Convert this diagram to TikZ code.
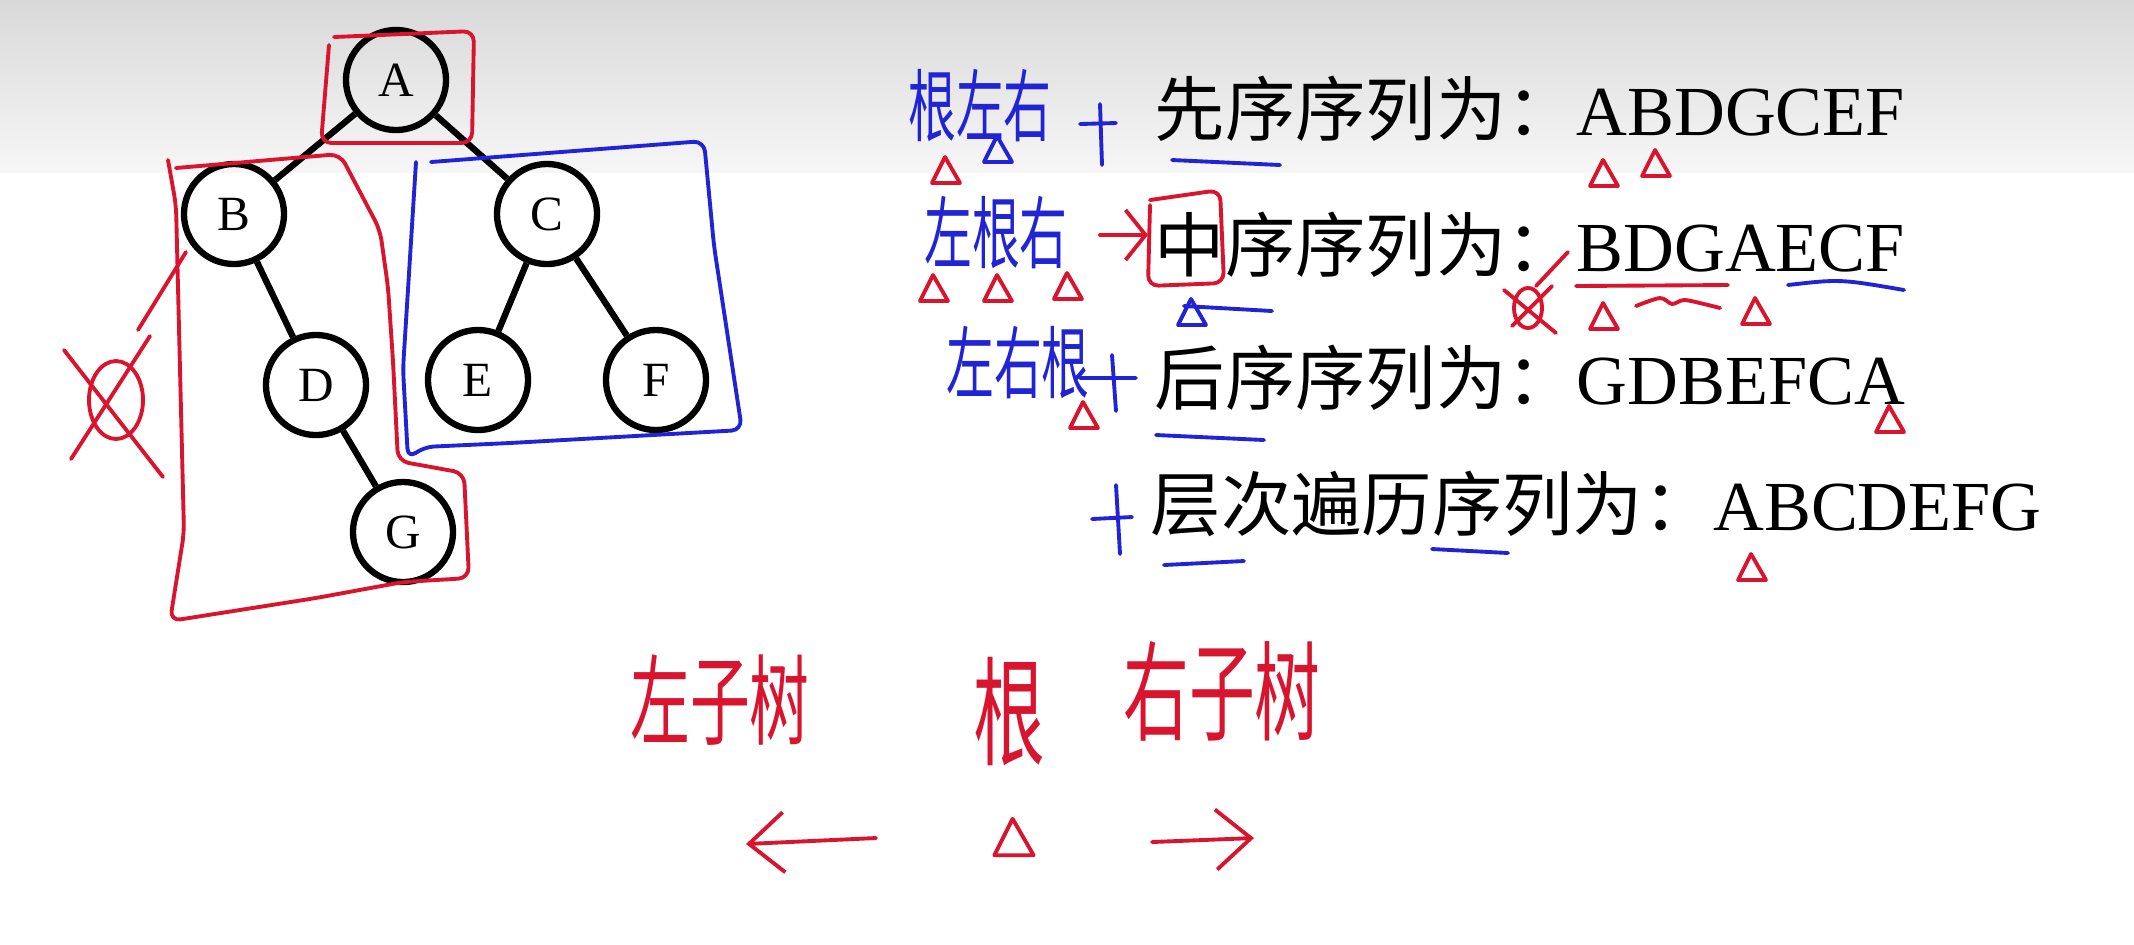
\documentclass[tikz,border=0pt]{standalone}
\usepackage{fontspec}
\setmainfont{Liberation Serif}
\newfontfamily\cjk{Noto Sans CJK SC}
\usetikzlibrary{arrows.meta}
\definecolor{pen1}{HTML}{D9142E}
\definecolor{pen2}{HTML}{2024D4}
% handwritten words, squeezed like the pen strokes
\newcommand\hw[2][16pt]{\scalebox{0.85}[1.4]{\fontsize{#1}{#1}\selectfont\cjk #2}}

\begin{document}
\begin{tikzpicture}[
  x=0.01cm,y=-0.01cm,
  vertex/.style={circle,draw,line width=1.8pt,minimum size=1cm,inner sep=0pt,font=\fontsize{14pt}{14pt}\selectfont},
  edge/.style={line width=1.8pt},
  row/.style={anchor=west,inner sep=0pt,font=\fontsize{20pt}{24pt}\selectfont},
  redpen/.style={color=pen1,line width=1.1pt,line cap=round,line join=round},
  bluepen/.style={color=pen2,line width=1.1pt,line cap=round,line join=round},
  tri/.pic={\draw (-14,13) -- (-1,-13) -- (14,13) -- cycle;},
  barb/.style={-{Straight Barb[length=3.5mm,width=6mm]}}]

\useasboundingbox (0,0) rectangle (2134,944);
\fill[white] (0,0) rectangle (2134,944);
\shade[top color=gray!30,bottom color=gray!7] (0,0) rectangle (2134,172);

% the tree
\node[vertex] (A) at (396,80) {A};
\node[vertex] (B) at (234,214) {B};
\node[vertex] (C) at (547,214) {C};
\node[vertex] (D) at (316,385) {D};
\node[vertex] (E) at (478,380) {E};
\node[vertex] (F) at (656,380) {F};
\node[vertex] (G) at (403,532) {G};
\foreach \u/\v in {A/B,A/C,B/D,D/G,C/E,C/F} \draw[edge] (\u) -- (\v);

% marks on the tree
\draw[redpen,rounded corners=3] (334,37) -- (474,31) -- (472,143) -- (321,143) -- (329,45);
\draw[redpen,rounded corners=3] (176,168) -- (340,154) -- (380,230) -- (388,287)
  -- (393,361) -- (398,461) -- (464,473) -- (469,578) -- (403,582) -- (316,598) -- (170,621)
  -- (184,533) -- (179,328) -- (176,205) -- (168,160);
\draw[bluepen,rounded corners=3] (416,162) -- (403,369) -- (408,459) -- (423,447) -- (510,443)
  -- (742,430) -- (714,246) -- (704,141) -- (431,162);
\draw[redpen] (116,400) ellipse [x radius=27,y radius=39];
\draw[redpen] (64,350) -- (163,477);
\draw[redpen] (150,336) -- (71,459);
\draw[redpen] (186,252) -- (138,330);

% the four orders
\node[row] (pre) at (1154,109) {{\cjk 先序序列为：}ABDGCEF};
\node[row] (in) at (1154,245) {{\cjk 中序序列为：}BDGAECF};
\node[row] (post) at (1154,378) {{\cjk 后序序列为：}GDBEFCA};
\node[row] (level) at (1150,504) {{\cjk 层次遍历序列为：}ABCDEFG};

% blue notes
\node[pen2] (r1) at (980,106) {\hw{根左右}};
\node[pen2] (r2) at (996,233) {\hw{左根右}};
\node[pen2] (r3) at (1018,363) {\hw{左右根}};
\draw[bluepen] (1100,104) -- (1102,165) (1080,124) -- (1116,123);
\draw[bluepen] (1080,378) -- (1136,378) (1112,355) -- (1116,411);
\draw[bluepen] (1116,485) -- (1120,554) (1092,519) -- (1132,517);
\draw[bluepen] (1172,160) -- (1280,165);
\draw[bluepen] (1156,435) -- (1264,440);
\draw[bluepen] (1164,565) -- (1244,561);
\draw[bluepen] (1432,549) -- (1508,553);
\draw[bluepen] (1788,285) .. controls (1840,279) .. (1904,290);
\draw[bluepen] (1184,306) -- (1272,311);
\foreach \p in {(998,149),(1192,312)} \pic[bluepen] at \p {tri};

% red notes
\draw[redpen,-{Straight Barb[length=2mm,width=5mm]}] (1100,235) -- (1148,235);
\draw[redpen,rounded corners=3] (1150,200) -- (1220,190) -- (1224,283) -- (1148,286) -- (1150,205);
\draw[redpen] (1576,286) -- (1728,285);
\draw[redpen] plot[smooth] coordinates {(1636,306) (1660,298) (1672,304) (1684,300) (1704,304) (1720,308)};
\draw[redpen] (1528,308) ellipse [x radius=14,y radius=20];
\draw[redpen] (1504,290) -- (1556,333) (1552,286) -- (1512,326) (1568,252) -- (1536,286);
\foreach \p in {(946,170),(934,288),(998,288),(1068,286),(1604,173),(1656,163),
  (1604,316),(1756,311),(1084,415),(1890,419),(1752,567)}
  \pic[redpen] at \p {tri};

% root in the middle, subtrees to the sides
\node[pen1] (lsub) at (720,700) {\hw[20pt]{左子树}};
\node[pen1] (root) at (1009,712) {\hw[24pt]{根}};
\node[pen1] (rsub) at (1222,691) {\hw[22pt]{右子树}};
\pic[redpen,scale=1.4] at (1014,837) {tri};
\draw[redpen,barb] (876,838) -- (746,844);
\draw[redpen,barb] (1152,842) -- (1254,838);
\end{tikzpicture}
\end{document}
